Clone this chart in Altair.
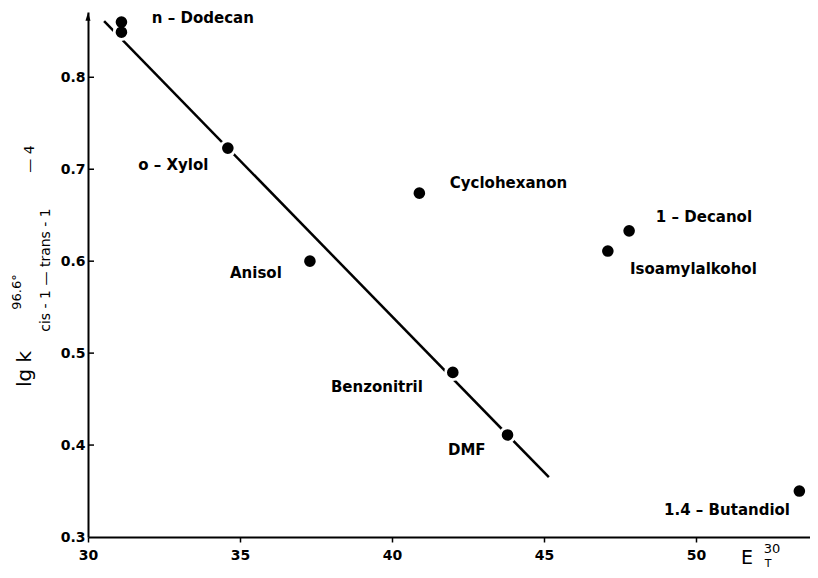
import altair as alt
import pandas as pd

# ---- data ----
solvents = ["n-Dodecan", "n-Dodecan", "o-Xylol", "Anisol", "Cyclohexanon",
            "Benzonitril", "DMF", "Isoamylalkohol", "1-Decanol", "1.4-Butandiol"]
et30 = [31.1, 31.1, 34.6, 37.3, 40.9, 42.0, 43.8, 47.1, 47.8, 53.4]
lgk = [0.860, 0.849, 0.723, 0.600, 0.674, 0.479, 0.411, 0.611, 0.633, 0.350]

label_text = ["n – Dodecan", "o – Xylol", "Cyclohexanon", "Anisol", "1 – Decanol",
              "Isoamylalkohol", "Benzonitril", "DMF", "1.4 – Butandiol"]
label_x = [32.1, 31.65, 41.9, 34.67, 48.68, 47.83, 37.99, 41.84, 48.95]
label_y = [0.864, 0.705, 0.685, 0.587, 0.648, 0.592, 0.463, 0.395, 0.329]

line_x = [30.53, 45.16]
line_y = [0.861, 0.365]

x_ticks = [30, 35, 40, 45, 50]
y_ticks = [0.3, 0.4, 0.5, 0.6, 0.7, 0.8]

FONT = "DejaVu Sans"
xscale = alt.Scale(domain=[30, 53.75], nice=False, zero=False)
yscale = alt.Scale(domain=[0.3, 0.871], nice=False, zero=False)

pts = pd.DataFrame({"solvent": solvents, "et": et30, "lgk": lgk})
labels = pd.DataFrame({"t": label_text, "x": label_x, "y": label_y})
line = pd.DataFrame({"x": line_x, "y": line_y})
yt = pd.DataFrame({"y": y_ticks[1:]})

xaxis = alt.Axis(values=x_ticks, title=None, grid=False, domainColor="black",
                 domainWidth=2, tickColor="black", tickWidth=1.5, tickSize=5,
                 labelPadding=6, labelFont=FONT, labelFontSize=14,
                 labelFontWeight="bold", labelColor="black", labelFlush=False,
                 labelOverlap=False)
yaxis = alt.Axis(values=y_ticks, format=".1f", title=None, grid=False,
                 domainColor="black", domainWidth=2, ticks=False,
                 labelPadding=3, labelFont=FONT, labelFontSize=14,
                 labelFontWeight="bold", labelColor="black", labelFlush=False,
                 labelOverlap=False)

base_line = alt.Chart(line).mark_line(color="black", strokeWidth=2.5).encode(
    x=alt.X("x:Q", scale=xscale, axis=xaxis),
    y=alt.Y("y:Q", scale=yscale, axis=yaxis),
)

ring = alt.Chart(pts).mark_point(filled=True, color="white", size=300, opacity=1).encode(
    x=alt.X("et:Q", scale=xscale), y=alt.Y("lgk:Q", scale=yscale))

dots = alt.Chart(pts).mark_point(filled=True, color="black", size=135, opacity=1).encode(
    x=alt.X("et:Q", scale=xscale), y=alt.Y("lgk:Q", scale=yscale))

txt = alt.Chart(labels).mark_text(align="left", baseline="middle", font=FONT,
                                  fontSize=15, fontWeight="bold", color="black").encode(
    x=alt.X("x:Q", scale=xscale), y=alt.Y("y:Q", scale=yscale), text="t:N")

yticks_in = alt.Chart(yt).mark_rule(color="black", strokeWidth=1.5).encode(
    x=alt.value(0), x2=alt.value(6), y=alt.Y("y:Q", scale=yscale))

arrow = alt.Chart(pd.DataFrame({"a": [0]})).mark_point(
    shape="M0,-1L0.6,1L-0.6,1Z", filled=True, color="black", size=70, opacity=1
).encode(x=alt.datum(30), y=alt.datum(0.866))

one = pd.DataFrame({"a": [0]})


def note(text, x, y, size, angle=0, weight="normal"):
    return alt.Chart(one).mark_text(text=text, font=FONT, fontSize=size, angle=angle,
                                    align="center", baseline="middle",
                                    fontWeight=weight, color="black").encode(
        x=alt.value(x), y=alt.value(y))


titles = [
    note("lg k", -63, 357, 20, 270),
    note("96.6°", -71, 280, 13, 270),
    note("cis - 1 — trans - 1", -42, 258, 14, 270),
    note("— 4", -58, 147, 14, 270),
    note("E", 659, 546, 19),
    note("30", 684, 537, 13),
    note("T", 680, 552, 11),
]

chart = alt.layer(base_line, yticks_in, arrow, ring, dots, txt, *titles).properties(
    width=722, height=525,
    autosize=alt.AutoSizeParams(type="none"),
    padding={"left": 80, "top": 4, "right": 0, "bottom": 33},
    background="white",
).configure_view(stroke=None)

chart.save("out.html", embed_options={"renderer": "svg", "actions": False})
